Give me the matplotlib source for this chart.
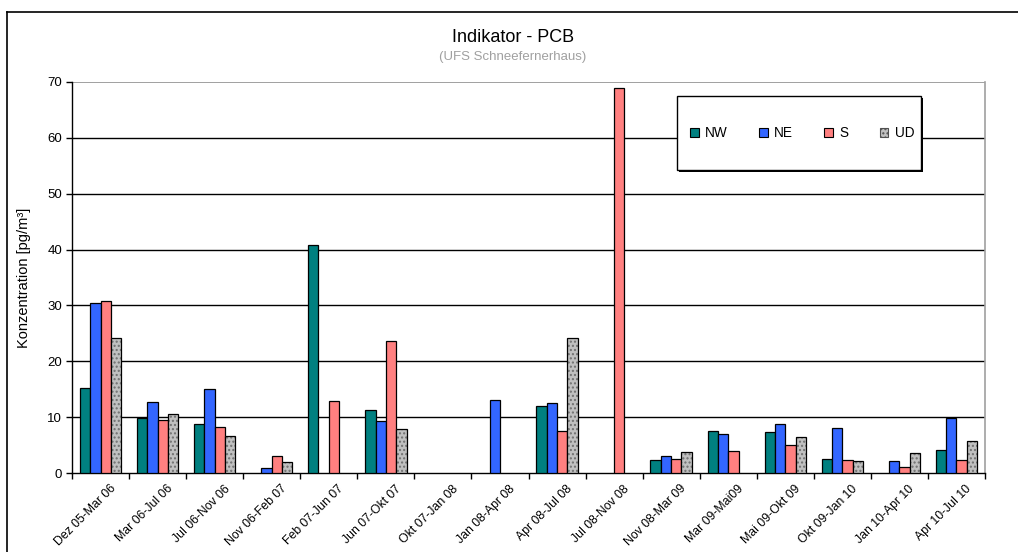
import matplotlib
matplotlib.use("Agg")
import matplotlib.pyplot as plt
import matplotlib.transforms as mtransforms
import numpy as np
from matplotlib.patches import Rectangle, Patch
from matplotlib.lines import Line2D

plt.rcParams['font.family'] = ['Liberation Sans', 'DejaVu Sans']

periods = ["Dez 05-Mar 06", "Mar 06-Jul 06", "Jul 06-Nov 06", "Nov 06-Feb 07",
           "Feb 07-Jun 07", "Jun 07-Okt 07", "Okt 07-Jan 08", "Jan 08-Apr 08",
           "Apr 08-Jul 08", "Jul 08-Nov 08", "Nov 08-Mar 09", "Mar 09-Mai09",
           "Mai 09-Okt 09", "Okt 09-Jan 10", "Jan 10-Apr 10", "Apr 10-Jul 10"]

nw = [15.3, 9.8, 8.7, 0, 40.9, 11.2, 0, 0, 12.0, 0, 2.3, 7.5, 7.4, 2.5, 0, 4.1]
ne = [30.4, 12.7, 15.0, 0.9, 0, 9.3, 0, 13.0, 12.6, 0, 3.0, 6.9, 8.7, 8.0, 2.2, 9.9]
s = [30.8, 9.4, 8.2, 3.1, 12.9, 23.6, 0, 0, 7.5, 68.9, 2.5, 4.0, 5.0, 2.3, 1.1, 2.4]
ud = [24.2, 10.6, 6.6, 1.9, 0, 7.9, 0, 0, 24.1, 0, 3.8, 0, 6.4, 2.2, 3.5, 5.7]

series_names = ["NW", "NE", "S", "UD"]
series_vals = [nw, ne, s, ud]
colors = ["#008080", "#3366FF", "#FF8080", "#C0C0C0"]

W, H = 1018, 552
fig = plt.figure(figsize=(W / 100, H / 100), dpi=100)

# outer chart frame (left and top edges)
fig.add_artist(Line2D([7 / W, 7 / W], [0, 1 - 12 / H], transform=fig.transFigure,
                      color="black", lw=1.2))
fig.add_artist(Line2D([7 / W, 1], [1 - 12 / H, 1 - 12 / H], transform=fig.transFigure,
                      color="black", lw=1.2))

left, right, top, bottom = 72, 985, 82, 473
ax = fig.add_axes([left / W, 1 - bottom / H, (right - left) / W, (bottom - top) / H])

n = len(periods)
x = np.arange(n) + 0.5
bw = 0.181
for k, (name, vals, col) in enumerate(zip(series_names, series_vals, colors)):
    pos = x + (k - 1.5) * bw
    vals = np.array(vals)
    mask = vals > 0
    if name == "UD":
        ax.bar(pos[mask], vals[mask], bw, color=col, edgecolor="#707070",
               hatch="....", linewidth=0, zorder=3)
        ax.bar(pos[mask], vals[mask], bw, fill=False, edgecolor="black",
               linewidth=0.9, zorder=4)
    else:
        ax.bar(pos[mask], vals[mask], bw, color=col, edgecolor="black",
               linewidth=0.9, zorder=3)

ax.set_xlim(0, n)
ax.set_ylim(0, 70)
ax.set_yticks(np.arange(0, 71, 10))
for yv in range(10, 70, 10):
    ax.axhline(yv, color="black", lw=1.0, zorder=1)
ax.axhline(70, color="#909090", lw=1.2, zorder=1)

ax.set_xticks(np.arange(0, n + 1))
ax.set_xticklabels([])
ax.set_xticks(x, minor=True)
ax.set_xticklabels(periods, minor=True, rotation=45, ha="right",
                   rotation_mode="anchor", fontsize=8.8)
ax.tick_params(axis="x", which="minor", length=0, pad=7)
ax.tick_params(axis="x", which="major", direction="out", length=4, width=1)
ax.tick_params(axis="y", direction="out", length=4, width=1, labelsize=9.5, pad=3)
shift = mtransforms.ScaledTranslation(9 / 100, 0, fig.dpi_scale_trans)
for lbl in ax.get_xticklabels(minor=True):
    lbl.set_transform(lbl.get_transform() + shift)

ax.spines["top"].set_visible(False)
ax.spines["right"].set_color("#A0A0A0")
ax.spines["right"].set_linewidth(1.2)
ax.spines["left"].set_linewidth(1.0)
ax.spines["bottom"].set_linewidth(1.0)

ax.set_ylabel("Konzentration [pg/m³]", fontsize=10.5, labelpad=12)

fig.text(513 / W, 1 - 37 / H, "Indikator - PCB", ha="center", va="center", fontsize=13)
fig.text(513 / W, 1 - 57 / H, "(UFS Schneefernerhaus)", ha="center", va="center",
         fontsize=9.5, color="#A0A0A0")

# legend box with drop shadow
lx0, ly0, lx1, ly1 = 677, 96, 921, 170
fig.add_artist(Rectangle(((lx0 + 2) / W, 1 - (ly1 + 2) / H), (lx1 - lx0) / W,
                         (ly1 - ly0) / H, transform=fig.transFigure,
                         facecolor="black", edgecolor="none", zorder=5))
fig.add_artist(Rectangle((lx0 / W, 1 - ly1 / H), (lx1 - lx0) / W, (ly1 - ly0) / H,
                         transform=fig.transFigure, facecolor="white",
                         edgecolor="black", lw=1.0, zorder=6))
handles = []
for name, col in zip(series_names, colors):
    if name == "UD":
        handles.append(Patch(facecolor=col, edgecolor="#505050", hatch="....", lw=0.8))
    else:
        handles.append(Patch(facecolor=col, edgecolor="black", lw=0.8))
leg = fig.legend(handles, series_names, loc="center",
                 bbox_to_anchor=((lx0 + lx1) / 2 / W + 3 / W, 1 - 133 / H),
                 ncol=4, frameon=False, fontsize=9.8, handlelength=0.65,
                 handleheight=0.65, handletextpad=0.45, columnspacing=2.3)
leg.set_zorder(7)

fig.savefig("out.png", dpi=100)
